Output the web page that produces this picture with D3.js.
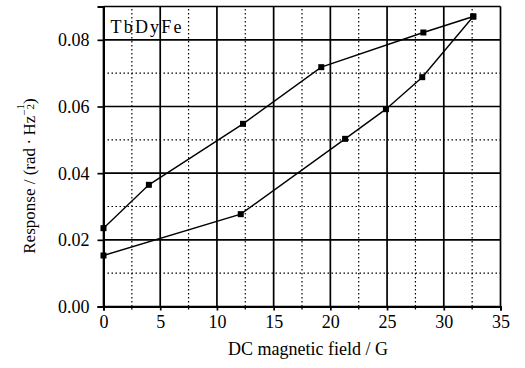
<!DOCTYPE html>
<html>
<head>
<meta charset="utf-8">
<script src="https://cdn.jsdelivr.net/npm/d3@7/dist/d3.min.js"></script>
</head>
<body style="margin:0; background:#fff">
<div id="chart"></div>
<script>
// data
const upperField = [0, 4, 12.3, 19.2, 28.2, 32.6];
const upperResponse = [0.0235, 0.0365, 0.0548, 0.0718, 0.0822, 0.087];
const lowerField = [0, 12.1, 21.3, 24.9, 28.1, 32.6];
const lowerResponse = [0.0153, 0.0277, 0.0503, 0.0592, 0.0688, 0.087];
const xTicks = [0, 5, 10, 15, 20, 25, 30, 35];
const yTicks = [0, 0.02, 0.04, 0.06, 0.08];

const width = 525, height = 368;
const margin = { left: 103.5, right: 24.5, top: 6.5, bottom: 61.5 };
const SERIF = "'Liberation Serif', serif";

let svg = d3.select("#chart").append("svg")
    .attr("width", width)
    .attr("height", height)
    .style("display", "block");

let x = d3.scaleLinear().domain([0, 35]).range([margin.left, width - margin.right]);
let y = d3.scaleLinear().domain([0, 0.09]).range([height - margin.bottom, margin.top]);

let grid = svg.append("g");

// dotted minor grid
d3.range(2.5, 35, 5).forEach(v => {
    grid.append("line")
        .attr("x1", x(v)).attr("x2", x(v))
        .attr("y1", y(0)).attr("y2", y(0.09))
        .attr("stroke", "#000").attr("stroke-width", 1.2)
        .attr("stroke-dasharray", "1.5,2.5");
});
[0.01, 0.03, 0.05, 0.07].forEach(v => {
    grid.append("line")
        .attr("x1", x(0)).attr("x2", x(35))
        .attr("y1", y(v)).attr("y2", y(v))
        .attr("stroke", "#000").attr("stroke-width", 1.2)
        .attr("stroke-dasharray", "1.5,2.5");
});

// solid major grid
xTicks.forEach(v => {
    grid.append("line")
        .attr("x1", x(v)).attr("x2", x(v))
        .attr("y1", y(0)).attr("y2", y(0.09))
        .attr("stroke", "#000").attr("stroke-width", 1.7);
});
yTicks.concat([0.09]).forEach(v => {
    grid.append("line")
        .attr("x1", x(0)).attr("x2", x(35))
        .attr("y1", y(v)).attr("y2", y(v))
        .attr("stroke", "#000").attr("stroke-width", 1.7);
});

// axes
let xAxis = svg.append("g")
    .attr("transform", `translate(0,${y(0)})`)
    .call(d3.axisBottom(x).tickValues(xTicks).tickFormat(d3.format("d")).tickSize(4).tickPadding(5));
let yAxis = svg.append("g")
    .attr("transform", `translate(${x(0)},0)`)
    .call(d3.axisLeft(y).tickValues(yTicks).tickFormat(d3.format(".2f")).tickSize(6).tickPadding(8));

[xAxis, yAxis].forEach(a => {
    a.select(".domain").attr("stroke", "#000").attr("stroke-width", 2);
    a.selectAll(".tick line").attr("stroke", "#000").attr("stroke-width", 1.7);
    a.selectAll("text").attr("font-size", 18).attr("fill", "#000");
});
yAxis.selectAll("text").attr("dy", "0.34em");

// minor ticks on x axis
svg.append("g").selectAll("line")
    .data(d3.range(2.5, 35, 5))
    .enter().append("line")
    .attr("x1", d => x(d)).attr("x2", d => x(d))
    .attr("y1", y(0)).attr("y2", y(0) + 3)
    .attr("stroke", "#000").attr("stroke-width", 1.3);

// label box
svg.append("text")
    .attr("x", x(0) + 7)
    .attr("y", y(0.08) - 7)
    .attr("font-size", 18)
    .attr("textLength", 71)
    .text("TbDyFe");

// series
let line = d3.line().x(d => x(d[0])).y(d => y(d[1]));
let series = [
    d3.zip(upperField, upperResponse),
    d3.zip(lowerField, lowerResponse)
];

series.forEach(pts => {
    svg.append("path")
        .datum(pts)
        .attr("d", line)
        .attr("fill", "none")
        .attr("stroke", "#000")
        .attr("stroke-width", 1.4);
    svg.append("g").selectAll("rect")
        .data(pts)
        .enter().append("rect")
        .attr("x", d => x(d[0]) - 3)
        .attr("y", d => y(d[1]) - 3)
        .attr("width", 6)
        .attr("height", 6)
        .attr("fill", "#000");
});

// axis titles
svg.append("text")
    .attr("x", 308)
    .attr("y", 355)
    .attr("text-anchor", "middle")
    .attr("font-size", 18)
    .text("DC magnetic field / G");

let yTitle = svg.append("text")
    .attr("transform", "translate(35,176) rotate(-90)")
    .attr("text-anchor", "middle")
    .attr("font-size", 17);
yTitle.append("tspan").text("Response / (rad\u2009\u00b7\u2009Hz");
yTitle.append("tspan").attr("dy", -7).attr("font-size", 11).text("\u2212");
yTitle.append("tspan").attr("dy", -4).attr("font-size", 11).text("1");
yTitle.append("tspan").attr("dx", -5.5).attr("dy", 10).attr("font-size", 11).text("2");
yTitle.append("tspan").attr("dy", 1).text(")");

// serif on every text element
svg.selectAll("text").attr("font-family", SERIF);
</script>
</body>
</html>
